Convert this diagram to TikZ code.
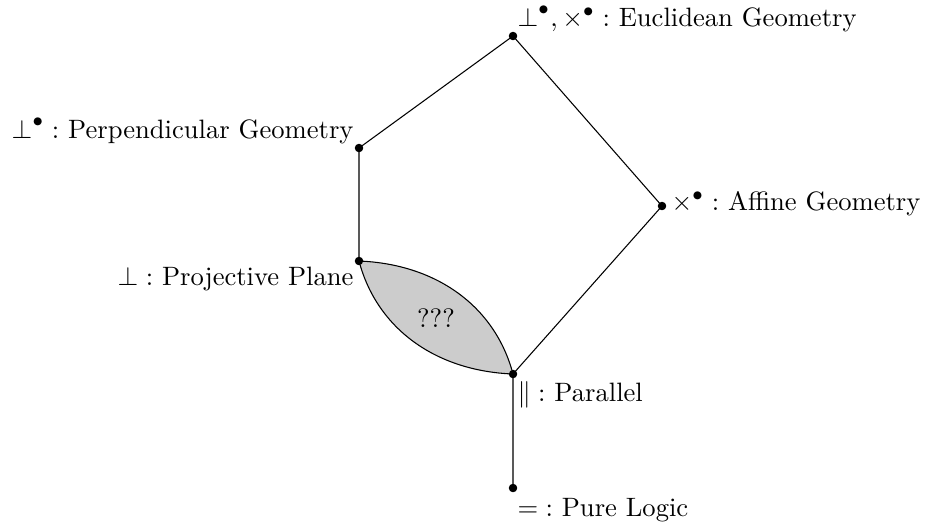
\documentclass[tikz,border=0pt]{standalone}
\usepackage{amssymb}
\begin{document}
\begin{tikzpicture}[x=0.376pt,y=-0.376pt,
  pt/.style={circle,fill=black,inner sep=0pt,minimum size=3.1pt},
  lbl/.style={inner sep=0pt,font=\normalsize}]
\useasboundingbox (0,0) rectangle (926,523);
\node[pt] (E) at (513,36) {};
\node[pt] (Pp) at (359,148) {};
\node[pt] (A) at (662,206) {};
\node[pt] (Pj) at (359,261) {};
\node[pt] (Pa) at (513,374) {};
\node[pt] (L) at (513,488) {};
\filldraw[fill=black!20,draw=black] (Pj.center) .. controls (436,264) and (495,306) .. (Pa.center)
  .. controls (436,371) and (377,329) .. (Pj.center);
\node (Q) at (436,318) {???};
\draw (E.center) -- (Pp.center) -- (Pj.center);
\draw (E.center) -- (A.center) -- (Pa.center) -- (L.center);
\node[pt] at (E) {};
\node[pt] at (Pp) {};
\node[pt] at (A) {};
\node[pt] at (Pj) {};
\node[pt] at (Pa) {};
\node[pt] at (L) {};
\node[lbl,anchor=base west] (El) at (517,26) {${\perp}^\bullet, {\times}^\bullet :$ Euclidean Geometry};
\node[lbl,anchor=base east] (Ppl) at (354,138) {${\perp}^\bullet :$ Perpendicular Geometry};
\node[lbl,anchor=base west] (Al) at (671,210) {${\times}^\bullet :$ Affine Geometry};
\node[lbl,anchor=base east] (Pjl) at (354,285) {${\perp} :$ Projective Plane};
\node[lbl,anchor=base west] (Pal) at (517,401) {${\parallel} :$ Parallel};
\node[lbl,anchor=base west] (Ll) at (517,516) {${=} :$ Pure Logic};
\end{tikzpicture}
\end{document}
